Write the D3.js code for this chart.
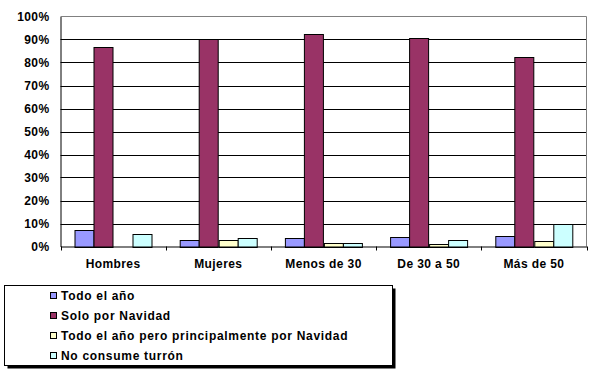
<!DOCTYPE html>
<html>
<head>
<meta charset="utf-8">
<script src="https://cdn.jsdelivr.net/npm/d3@7"></script>
<style>
  body { margin: 0; background: #fff; }
  svg { display: block; font-family: "Liberation Sans", Arial, sans-serif; font-weight: bold; }
</style>
</head>
<body>
<div id="chart"></div>
<script>
const categories = ['Hombres', 'Mujeres', 'Menos de 30', 'De 30 a 50', 'Más de 50'];
const seriesNames = ['Todo el año', 'Solo por Navidad', 'Todo el año pero principalmente por Navidad', 'No consume turrón'];
const todoElAno = [7.3, 2.9, 3.8, 4.2, 4.6];
const soloNavidad = [86.7, 90.3, 92.5, 90.7, 82.5];
const principalmenteNavidad = [0, 2.9, 1.6, 1.3, 2.5];
const noConsume = [5.5, 3.8, 1.6, 2.9, 9.9];
const yTicks = [0, 10, 20, 30, 40, 50, 60, 70, 80, 90, 100];
const colors = ['#9999FF', '#993366', '#FFFFCC', '#CCFFFF'];

const series = [todoElAno, soloNavidad, principalmenteNavidad, noConsume];

const W = 600, H = 375;
const plot = { left: 60.5, right: 586.5, top: 16.5, bottom: 246.5 };

const svg = d3.select('#chart').append('svg')
  .attr('width', W).attr('height', H);

const x = d3.scaleBand()
  .domain(categories)
  .range([plot.left, plot.right]);

// gap width 150% of a bar, split on both sides
const barW = x.bandwidth() / 5.5;
const xInner = d3.scaleBand()
  .domain(d3.range(series.length))
  .range([barW * 0.75, x.bandwidth() - barW * 0.75]);

const y = d3.scaleLinear()
  .domain([0, 100])
  .range([plot.bottom, plot.top]);

// gridlines
svg.append('g')
  .selectAll('line')
  .data(yTicks.filter(d => d > 0 && d < 100))
  .enter().append('line')
  .attr('x1', plot.left).attr('x2', plot.right)
  .attr('y1', d => Math.round(y(d)) + 0.5).attr('y2', d => Math.round(y(d)) + 0.5)
  .attr('stroke', '#000').attr('stroke-width', 1);

// plot border top/right (gray)
svg.append('path')
  .attr('d', `M${plot.left},${plot.top}H${plot.right}V${plot.bottom}`)
  .attr('fill', 'none').attr('stroke', '#808080');

// bars
const groups = svg.append('g')
  .selectAll('g')
  .data(categories)
  .enter().append('g')
  .attr('transform', d => `translate(${x(d)},0)`);

groups.selectAll('rect')
  .data((c, ci) => series.map((s, si) => ({ si, v: s[ci] })).filter(d => d.v > 0))
  .enter().append('rect')
  .attr('x', d => Math.round(xInner(d.si)) + 0.5)
  .attr('width', Math.round(xInner.bandwidth()))
  .attr('y', d => Math.round(y(d.v)) + 0.5)
  .attr('height', d => Math.round(plot.bottom) - Math.round(y(d.v)))
  .attr('fill', d => colors[d.si])
  .attr('stroke', '#000').attr('stroke-width', 1);

// y axis
const yAxis = svg.append('g')
  .attr('transform', `translate(${plot.left},0)`)
  .call(d3.axisLeft(y).tickValues(yTicks).tickFormat(d => d + '%').tickSize(0).tickPadding(11));
yAxis.select('.domain').attr('stroke', '#000');
yAxis.selectAll('text')
  .attr('font-family', '"Liberation Sans", Arial, sans-serif')
  .attr('font-weight', 'bold').attr('font-size', 12).attr('fill', '#000')
  .attr('letter-spacing', 0.4);

// x axis
const xAxis = svg.append('g')
  .attr('transform', `translate(0,${plot.bottom})`)
  .call(d3.axisBottom(x).tickSize(0).tickPadding(13));
xAxis.select('.domain').attr('stroke', '#000');
xAxis.selectAll('text')
  .attr('font-family', '"Liberation Sans", Arial, sans-serif')
  .attr('font-weight', 'bold').attr('font-size', 12).attr('fill', '#000')
  .attr('letter-spacing', 0.4);

// category boundary ticks
svg.append('g')
  .selectAll('line')
  .data(categories.map(c => x(c)).concat([plot.right]))
  .enter().append('line')
  .attr('x1', d => Math.round(d) + 0.5).attr('x2', d => Math.round(d) + 0.5)
  .attr('y1', plot.bottom).attr('y2', plot.bottom + 4)
  .attr('stroke', '#000');

// legend
const lg = { x: 4.5, y: 285.5, w: 388, h: 80 };
svg.append('rect')
  .attr('x', lg.x + 3).attr('y', lg.y + 3).attr('width', lg.w).attr('height', lg.h)
  .attr('fill', '#000');
svg.append('rect')
  .attr('x', lg.x).attr('y', lg.y).attr('width', lg.w).attr('height', lg.h)
  .attr('fill', '#fff').attr('stroke', '#000');

const items = svg.append('g')
  .selectAll('g')
  .data(seriesNames)
  .enter().append('g')
  .attr('transform', (d, i) => `translate(50,${292 + i * 20})`);

items.append('rect')
  .attr('x', 0.5).attr('y', 0.5).attr('width', 6).attr('height', 6)
  .attr('fill', (d, i) => colors[i]).attr('stroke', '#000');

items.append('text')
  .attr('x', 11).attr('y', 8)
  .attr('font-size', 12)
  .attr('letter-spacing', 0.7)
  .text(d => d);
</script>
</body>
</html>
